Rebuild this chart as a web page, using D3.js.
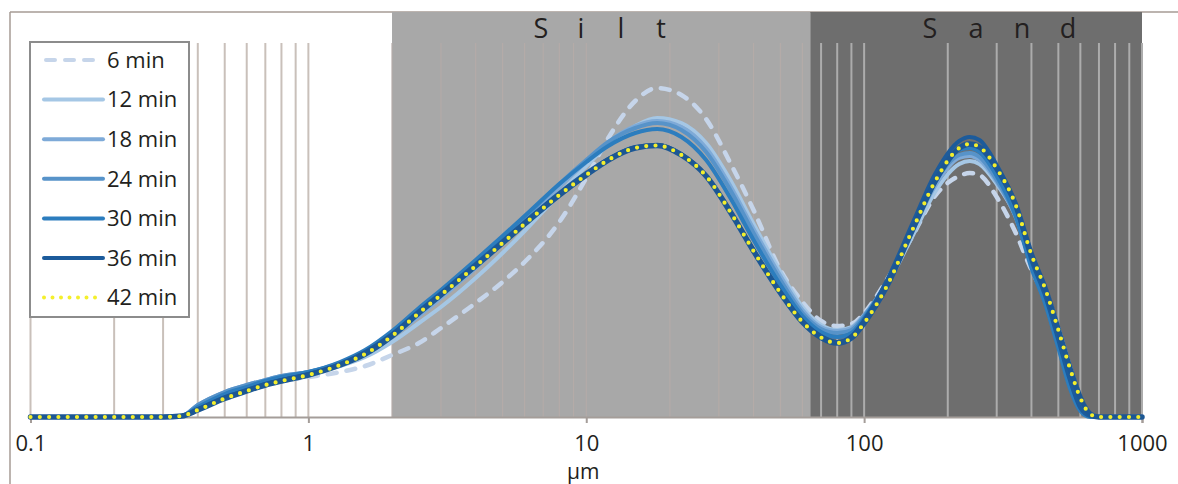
<!DOCTYPE html>
<html>
<head>
<meta charset="utf-8">
<script src="https://d3js.org/d3.v7.min.js"></script>
<style>
  body { margin: 0; background: #fff; }
  svg { display: block; font-family: "Open Sans", "Noto Sans", sans-serif; }
</style>
</head>
<body>
<svg width="1178" height="484"></svg>
<script>
// particle size classes (um)
const sizes = [0.1, 0.2, 0.3, 0.35, 0.4, 0.5, 0.6, 0.7, 0.8, 1, 1.3, 1.6, 2, 2.5, 3, 4, 5, 6, 8, 10,
  12, 15, 18, 22, 27, 33, 40, 50, 60, 70, 80, 90, 100, 120, 150, 180, 220, 240, 260, 300,
  350, 400, 450, 500, 550, 600, 650, 700, 1000];

// volume frequency for each sampling time
const min6 = [0, 0, 0, 0.02, 0.14, 0.38, 0.52, 0.64, 0.72, 0.80, 0.90, 1.02, 1.24, 1.48, 1.78, 2.28, 2.70, 3.10, 3.90, 4.78,
  5.58, 6.32, 6.58, 6.44, 5.96, 5.08, 4.14, 2.94, 2.30, 1.92, 1.82, 1.86, 2.08, 2.72, 3.64, 4.42, 4.82, 4.88, 4.84, 4.40,
  3.70, 2.94, 2.38, 1.70, 0.98, 0.38, 0.06, 0, 0];
const min12 = [0, 0, 0, 0.02, 0.22, 0.48, 0.62, 0.72, 0.80, 0.88, 1.02, 1.20, 1.50, 1.88, 2.20, 2.78, 3.28, 3.72, 4.46, 5.02,
  5.44, 5.82, 5.98, 5.88, 5.48, 4.74, 3.86, 2.90, 2.20, 1.84, 1.74, 1.80, 2.04, 2.62, 3.64, 4.50, 5.06, 5.12, 5.06, 4.66,
  4.04, 3.18, 2.54, 1.78, 1.02, 0.38, 0.06, 0, 0];
const min18 = [0, 0, 0, 0.02, 0.24, 0.50, 0.64, 0.74, 0.82, 0.90, 1.06, 1.26, 1.60, 2.02, 2.38, 2.98, 3.48, 3.90, 4.60, 5.10,
  5.50, 5.82, 5.92, 5.80, 5.38, 4.62, 3.76, 2.82, 2.14, 1.80, 1.72, 1.78, 2.04, 2.66, 3.74, 4.62, 5.18, 5.22, 5.14, 4.70,
  4.02, 3.10, 2.46, 1.70, 0.94, 0.34, 0.06, 0, 0];
const min24 = [0, 0, 0, 0.02, 0.24, 0.50, 0.64, 0.74, 0.82, 0.90, 1.08, 1.30, 1.66, 2.10, 2.46, 3.06, 3.56, 3.98, 4.66, 5.14,
  5.50, 5.78, 5.88, 5.74, 5.30, 4.54, 3.68, 2.74, 2.08, 1.76, 1.68, 1.74, 2.02, 2.68, 3.80, 4.70, 5.24, 5.28, 5.20, 4.74,
  4.02, 3.04, 2.38, 1.58, 0.84, 0.28, 0.04, 0, 0];
const min30 = [0, 0, 0, 0.02, 0.20, 0.46, 0.60, 0.72, 0.80, 0.90, 1.10, 1.34, 1.72, 2.18, 2.54, 3.14, 3.62, 4.02, 4.66, 5.10,
  5.42, 5.68, 5.76, 5.60, 5.14, 4.38, 3.54, 2.64, 2.02, 1.70, 1.60, 1.68, 1.98, 2.68, 3.84, 4.78, 5.34, 5.38, 5.30, 4.82,
  4.04, 2.98, 2.24, 1.38, 0.58, 0.12, 0, 0, 0];
const min36 = [0, 0, 0, 0.02, 0.16, 0.40, 0.54, 0.66, 0.74, 0.86, 1.06, 1.30, 1.66, 2.12, 2.48, 3.06, 3.52, 3.90, 4.48, 4.88,
  5.16, 5.40, 5.44, 5.26, 4.82, 4.12, 3.34, 2.50, 1.92, 1.62, 1.50, 1.62, 1.94, 2.70, 3.90, 4.86, 5.52, 5.60, 5.54, 5.04,
  4.26, 3.14, 2.40, 1.54, 0.74, 0.18, 0.02, 0, 0];
const min42 = [0, 0, 0, 0.02, 0.14, 0.37, 0.52, 0.64, 0.72, 0.84, 1.04, 1.26, 1.62, 2.08, 2.44, 3.02, 3.48, 3.86, 4.44, 4.84,
  5.14, 5.38, 5.43, 5.24, 4.82, 4.10, 3.32, 2.48, 1.90, 1.59, 1.48, 1.58, 1.88, 2.59, 3.77, 4.71, 5.38, 5.46, 5.40, 4.97,
  4.26, 3.25, 2.54, 1.74, 0.98, 0.38, 0.06, 0, 0];

const seriesLabels = ["6 min", "12 min", "18 min", "24 min", "30 min", "36 min", "42 min"];
const decadeTicks = [0.1, 1, 10, 100, 1000];
const zoneNames = ["Silt", "Sand"];
const zoneBounds = [[2, 64], [64, 1000]];
const xLabel = "µm";

const series = [min6, min12, min18, min24, min30, min36, min42];
const colors = ["#c6d5ea", "#a5c7e5", "#7eaad8", "#5793c9", "#2c7dbe", "#1c5b9b", "#f4ef2c"];

const svg = d3.select("svg");
const width = 1178, height = 484;
const x = d3.scaleLog().domain([0.1, 1000]).range([30.5, 1142]);
const y = d3.scaleLinear().domain([0, 8.1]).range([417, 12]);
const gridTop = 43;

// outer frame
svg.append("line").attr("x1", 10).attr("x2", width).attr("y1", 12).attr("y2", 12)
  .attr("stroke", "#a69b94").attr("stroke-width", 1.5);
svg.append("line").attr("x1", 10).attr("x2", 10).attr("y1", 12).attr("y2", height)
  .attr("stroke", "#a69b94").attr("stroke-width", 1.5);

// silt / sand zones
const zoneFill = ["#a8a8a8", "#6e6e6e"];
svg.selectAll("rect.zone").data(zoneBounds).enter().append("rect")
  .attr("class", "zone")
  .attr("x", d => x(d[0]))
  .attr("width", d => x(d[1]) - x(d[0]))
  .attr("y", y.range()[1])
  .attr("height", y(0) - y.range()[1])
  .attr("fill", (d, i) => zoneFill[i]);

// vertical grid on every log tick
const gridColor = d => d < 2 ? "#c9c0ba" : (d < 64 ? "#b4aba8" : "#acacac");
svg.append("g").selectAll("line").data(x.ticks()).enter().append("line")
  .attr("x1", d => x(d)).attr("x2", d => x(d))
  .attr("y1", gridTop).attr("y2", y(0))
  .attr("stroke", gridColor)
  .attr("stroke-width", d => (d >= 2 && d < 64) ? 1.2 : 2);

// zone labels, spaced out letters
const zoneLabelX = [601, 999];
const letterGap = [40, 46];
zoneNames.forEach((name, k) => {
  const letters = name.split("");
  svg.append("g").selectAll("text").data(letters).enter().append("text")
    .attr("x", (c, i) => zoneLabelX[k] + (i - (letters.length - 1) / 2) * letterGap[k])
    .attr("y", 38)
    .attr("text-anchor", "middle")
    .attr("font-size", 27)
    .attr("fill", "#231f20")
    .text(c => c);
});

// x axis
const axis = d3.axisBottom(x).tickValues(decadeTicks).tickFormat(d3.format("~g"))
  .tickSize(6).tickPadding(12);
const axisG = svg.append("g").attr("transform", `translate(0,${y(0)})`).call(axis);
axisG.select(".domain").attr("stroke", "#a49d99").attr("stroke-width", 2);
axisG.selectAll(".tick line").attr("stroke", "#a49d99").attr("stroke-width", 2);
axisG.selectAll(".tick text").attr("font-size", 22).attr("fill", "#231f20")
  .attr("font-family", "Open Sans, sans-serif");

svg.append("text").attr("x", x(10) - 3).attr("y", 479)
  .attr("text-anchor", "middle").attr("font-size", 21).attr("fill", "#231f20")
  .text(xLabel);

// curves
const line = d3.line()
  .x((d, i) => x(sizes[i]))
  .y(d => y(d))
  .curve(d3.curveMonotoneX);

const plot = svg.append("g");
series.forEach((vals, k) => {
  const p = plot.append("path").datum(vals)
    .attr("d", line)
    .attr("fill", "none")
    .attr("stroke-linecap", "round")
    .attr("stroke-linejoin", "round");
  if (k === 0) {
    p.attr("stroke", colors[0]).attr("stroke-width", 4.5).attr("stroke-dasharray", "9,10");
  } else if (k === 6) {
    // dark backing under the yellow dots
    p.attr("stroke", "#1c5794").attr("stroke-width", 5.5);
    plot.append("path").datum(vals)
      .attr("d", line)
      .attr("fill", "none")
      .attr("stroke", colors[6])
      .attr("stroke-width", 4.2)
      .attr("stroke-linecap", "round")
      .attr("stroke-dasharray", "0,9.3");
  } else {
    p.attr("stroke", colors[k]).attr("stroke-width", 4);
  }
});

// legend
const legend = svg.append("g").attr("transform", "translate(30,42)");
legend.append("rect").attr("width", 159).attr("height", 275)
  .attr("fill", "#fff").attr("stroke", "#8c8c8c").attr("stroke-width", 2);
const rows = legend.selectAll("g.row").data(seriesLabels).enter().append("g")
  .attr("transform", (d, i) => `translate(0,${18 + i * 39.6})`);
rows.append("line")
  .attr("x1", (d, i) => i === 0 ? 16 : 14).attr("x2", 73)
  .attr("stroke", (d, i) => colors[i])
  .attr("stroke-width", (d, i) => i === 6 ? 4 : 4)
  .attr("stroke-linecap", "round")
  .attr("stroke-dasharray", (d, i) => i === 0 ? "9,10" : (i === 6 ? "0,8.5" : null));
rows.append("text")
  .attr("x", 77).attr("dy", "0.35em")
  .attr("font-size", 22).attr("fill", "#231f20")
  .text(d => d);
</script>
</body>
</html>
